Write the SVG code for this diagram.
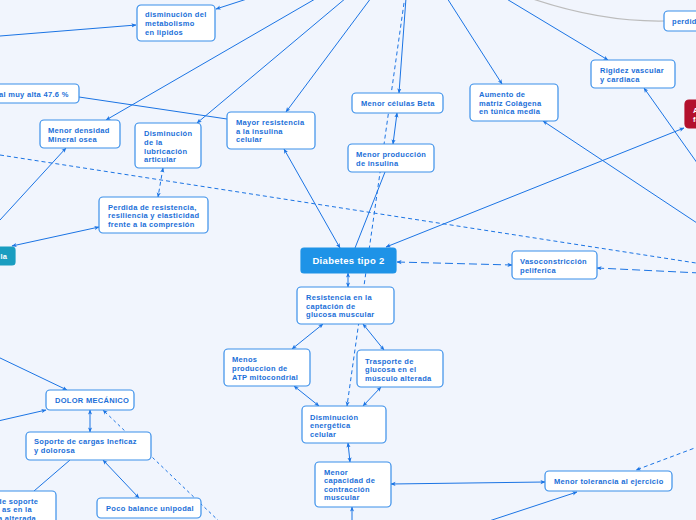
<svg xmlns="http://www.w3.org/2000/svg" width="696" height="520" viewBox="0 0 696 520">
<defs>
<marker id="a" viewBox="0 0 6 6" refX="5.5" refY="3" markerWidth="5" markerHeight="5" markerUnits="userSpaceOnUse" orient="auto-start-reverse"><path d="M0,0.5 L6,3 L0,5.5 L1.5,3 Z" fill="#1b74e4"/></marker>
</defs>
<style>
.bg{fill:#f1f5fd}
.n rect{fill:#fff;stroke:#3a8fea;stroke-width:1.2}
.n text{font-family:"Liberation Sans",Arial,sans-serif;font-weight:bold;font-size:7.5px;fill:#1b6fd8;letter-spacing:0.3px}
.c path,.c line{fill:none;stroke:#1b74e4;stroke-width:1}
.d{stroke-dasharray:4 3}
.ld{stroke-dasharray:8 4}
.dt{stroke-dasharray:3 3}
.e{marker-end:url(#a)}
.s{marker-start:url(#a)}
</style>
<rect class="bg" width="696" height="520"/>
<g class="c">
<path d="M530,-2 Q600,22 664,21" style="stroke:#bcbcbc;stroke-width:1.2"/>
<line x1="0" y1="36" x2="136" y2="25" class="e"/>
<line x1="250" y1="-2" x2="216" y2="9" class="e"/>
<line x1="322" y1="-5" x2="106" y2="120" class="e"/>
<line x1="346" y1="-2" x2="197" y2="123" class="e"/>
<line x1="371" y1="-2" x2="286" y2="112" class="e"/>
<line x1="406" y1="-2" x2="399" y2="93" class="e"/>
<line x1="405" y1="-4" x2="347" y2="406" class="d e"/>
<line x1="447" y1="-2" x2="502" y2="84" class="e"/>
<line x1="505" y1="-2" x2="608" y2="60" class="e"/>
<line x1="355" y1="248" x2="385" y2="172"/>
<line x1="284" y1="149" x2="340" y2="248" class="s e"/>
<line x1="397" y1="113" x2="393" y2="144" class="s e"/>
<line x1="386" y1="247" x2="684" y2="128" class="s e"/>
<line x1="700" y1="225" x2="543" y2="121" class="e"/>
<line x1="700" y1="167" x2="644" y2="88" class="e"/>
<line x1="0" y1="155" x2="696" y2="263" class="d"/>
<line x1="163" y1="168" x2="158" y2="197" class="d s e"/>
<line x1="0" y1="220" x2="66" y2="148" class="e"/>
<line x1="79" y1="97" x2="227" y2="119"/>
<line x1="99" y1="227" x2="12" y2="246" class="s e"/>
<line x1="397" y1="262" x2="512" y2="265" class="ld s e"/>
<line x1="700" y1="273" x2="597" y2="268" class="ld e"/>
<line x1="348" y1="273" x2="348" y2="287" class="s e"/>
<line x1="323" y1="324" x2="292" y2="349" class="s e"/>
<line x1="363" y1="324" x2="384" y2="350" class="s e"/>
<line x1="294" y1="386" x2="319" y2="406" class="s e"/>
<line x1="381" y1="387" x2="363" y2="406" class="s e"/>
<line x1="348" y1="443" x2="350" y2="462" class="s e"/>
<line x1="391" y1="484" x2="545" y2="482" class="s e"/>
<line x1="352" y1="522" x2="352" y2="507" class="e"/>
<line x1="486" y1="522" x2="577" y2="492" class="e"/>
<line x1="700" y1="446" x2="636" y2="470" class="d e"/>
<line x1="-2" y1="357" x2="67" y2="390" class="e"/>
<line x1="-2" y1="421" x2="46" y2="410" class="e"/>
<line x1="90" y1="410" x2="90" y2="432" class="s e"/>
<line x1="224" y1="526" x2="103" y2="410" class="dt e"/>
<line x1="70" y1="460" x2="34" y2="491"/>
<line x1="103" y1="460" x2="139" y2="498" class="s e"/>
</g>
<g id="n-lipidos" class="n"><rect x="137" y="5" width="78" height="36" rx="4"/><text x="145" y="17">disminución del</text><text x="145" y="26">metabolismo</text><text x="145" y="35">en lipidos</text></g>
<g id="n-muyalta" class="n"><rect x="-10" y="84" width="89" height="19" rx="4"/><text x="-1" y="97">al muy alta 47.6 %</text></g>
<g id="n-densidad" class="n"><rect x="40" y="120" width="80" height="28" rx="4"/><text x="48" y="133">Menor densidad</text><text x="48" y="142">Mineral osea</text></g>
<g id="n-lubricacion" class="n"><rect x="135" y="123" width="66" height="45" rx="4"/><text x="144" y="136">Disminución</text><text x="144" y="145">de la</text><text x="144" y="154">lubricación</text><text x="144" y="162">articular</text></g>
<g id="n-resistencia-ins" class="n"><rect x="227" y="112" width="88" height="37" rx="4"/><text x="236" y="125">Mayor resistencia</text><text x="236" y="134">a la insulina</text><text x="236" y="142">celular</text></g>
<g id="n-beta" class="n"><rect x="352" y="93" width="91" height="20" rx="4"/><text x="361" y="106">Menor células Beta</text></g>
<g id="n-produccion" class="n"><rect x="348" y="144" width="86" height="28" rx="4"/><text x="356" y="157">Menor producción</text><text x="356" y="166">de insulina</text></g>
<g id="n-colagena" class="n"><rect x="470" y="84" width="88" height="37" rx="4"/><text x="479" y="97">Aumento de</text><text x="479" y="106">matriz Colágena</text><text x="479" y="114">en túnica media</text></g>
<g id="n-rigidez" class="n"><rect x="591" y="60" width="84" height="28" rx="4"/><text x="600" y="73">Rigidez vascular</text><text x="600" y="82">y cardiaca</text></g>
<g id="n-perdida" class="n"><rect x="664" y="11" width="50" height="20" rx="4"/><text x="672" y="24">perdida</text></g>
<g id="n-red" class="n"><rect x="685" y="100" width="30" height="28" rx="4" style="fill:#b3102d;stroke:#b3102d"/><text x="693" y="113" style="fill:#fff">A</text><text x="693" y="122" style="fill:#fff">fa</text></g>
<g id="n-teal" class="n"><rect x="-20" y="247" width="35" height="18" rx="3" style="fill:#1a9dc0;stroke:#1a9dc0"/><text x="-2" y="259" style="fill:#fff">lla</text></g>
<g id="n-compresion" class="n"><rect x="99" y="197" width="109" height="36" rx="4"/><text x="108" y="210">Perdida de resistencia,</text><text x="108" y="218">resiliencia y elasticidad</text><text x="108" y="227">frente a la compresión</text></g>
<g id="n-diabetes" class="n"><rect x="301" y="248" width="95" height="25" rx="3" style="fill:#1e93e7;stroke:#1e93e7"/><text x="348.5" y="264" text-anchor="middle" style="fill:#fff;font-size:9.5px">Diabetes tipo 2</text></g>
<g id="n-vaso" class="n"><rect x="512" y="251" width="85" height="28" rx="4"/><text x="520" y="264">Vasoconstricción</text><text x="520" y="273">peliferica</text></g>
<g id="n-captacion" class="n"><rect x="297" y="287" width="97" height="37" rx="4"/><text x="306" y="300">Resistencia en la</text><text x="306" y="309">captación de</text><text x="306" y="317">glucosa muscular</text></g>
<g id="n-atp" class="n"><rect x="224" y="349" width="86" height="37" rx="4"/><text x="232" y="362">Menos</text><text x="232" y="371">produccion de</text><text x="232" y="380">ATP mitocondrial</text></g>
<g id="n-trasporte" class="n"><rect x="357" y="350" width="86" height="37" rx="4"/><text x="365" y="364">Trasporte de</text><text x="365" y="372">glucosa en el</text><text x="365" y="381">músculo alterada</text></g>
<g id="n-energetica" class="n"><rect x="302" y="406" width="84" height="37" rx="4"/><text x="310" y="420">Disminución</text><text x="310" y="428">energética</text><text x="310" y="437">celular</text></g>
<g id="n-contraccion" class="n"><rect x="315" y="462" width="76" height="45" rx="4"/><text x="324" y="475">Menor</text><text x="324" y="483">capacidad de</text><text x="324" y="492">contracción</text><text x="324" y="500">muscular</text></g>
<g id="n-tolerancia" class="n"><rect x="545" y="471" width="127" height="20" rx="4"/><text x="554" y="484">Menor tolerancia al ejercicio</text></g>
<g id="n-dolor" class="n"><rect x="46" y="390" width="88" height="20" rx="4"/><text x="55" y="403">DOLOR MECÁNICO</text></g>
<g id="n-soporte" class="n"><rect x="26" y="432" width="125" height="28" rx="4"/><text x="34" y="444">Soporte de cargas Ineficaz</text><text x="34" y="453">y dolorosa</text></g>
<g id="n-area" class="n"><rect x="-20" y="491" width="76" height="40" rx="4"/><text x="-3" y="504">de soporte</text><text x="2" y="512">as en la</text><text x="-2" y="521">a alterada</text></g>
<g id="n-balance" class="n"><rect x="97" y="498" width="104" height="20" rx="4"/><text x="106" y="511">Poco balance unipodal</text></g>
</svg>
